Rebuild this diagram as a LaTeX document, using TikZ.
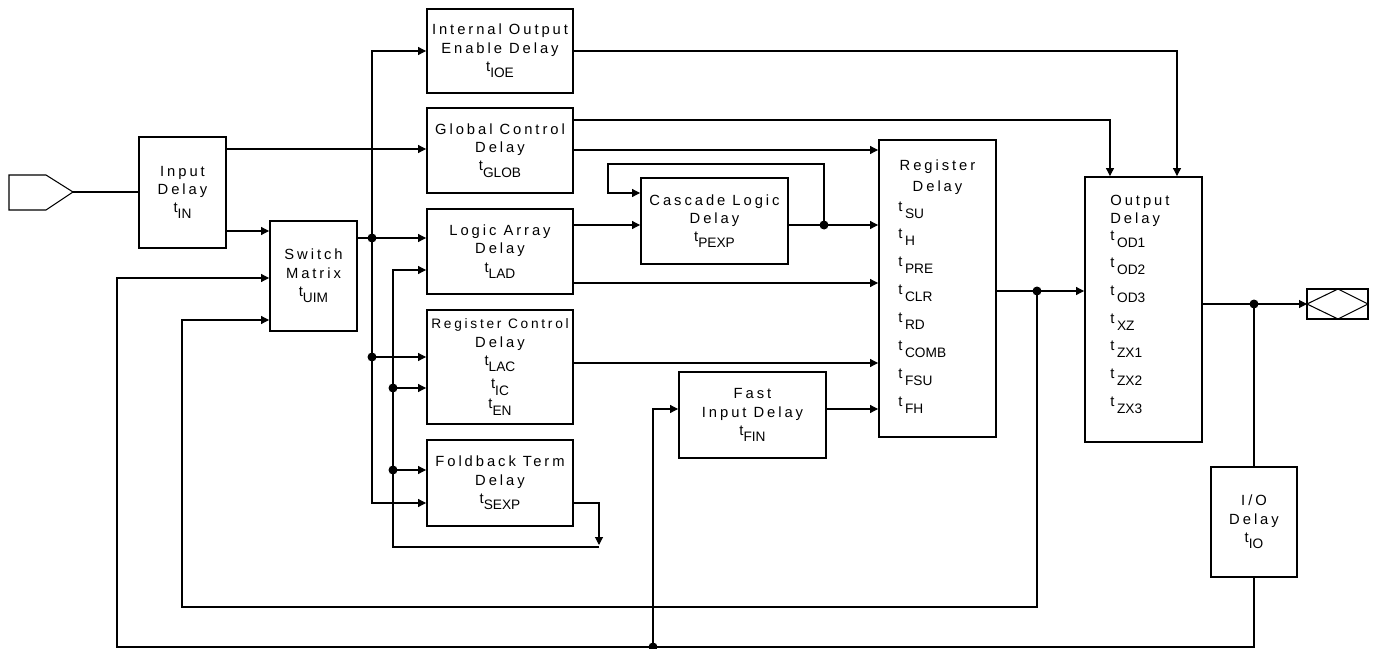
\documentclass[tikz,border=0pt]{standalone}
\usepackage{fontspec}
\setmainfont{Liberation Sans}
\newfontfamily\labelfont[LetterSpace=20]{Liberation Sans}
\usetikzlibrary{arrows.meta}
\newcommand{\subfont}{\normalfont\fontsize{7.8}{9}\selectfont}
\newcommand{\tsub}[1]{t\raisebox{-3.5pt}{\subfont #1}}

\begin{document}
\begin{tikzpicture}[x=0.02cm,y=-0.02cm,
  box/.style={draw,line width=1.1pt,inner sep=0pt,align=center,font=\labelfont\fontsize{8.4}{10.4}\selectfont},
  txt/.style={inner sep=0pt,font=\labelfont\fontsize{8.4}{10.4}\selectfont},
  line/.style={line width=0.6pt},
  arr/.style={line width=0.6pt,-{Triangle[length=4.5pt,width=4.5pt]}}]
  \useasboundingbox (0,0) rectangle (1374,649);
  \node[box,minimum width=1.74cm,minimum height=2.22cm] (inp) at (182.5,192.5) {Input\\Delay\\\tsub{IN}};
  \node[box,minimum width=1.74cm,minimum height=2.2cm] (sw) at (313.5,276) {Switch\\Matrix\\\tsub{UIM}};
  \node[box,minimum width=2.92cm,minimum height=1.68cm] (ioe) at (500,51) {Internal Output\\Enable Delay\\\tsub{IOE}};
  \node[box,minimum width=2.92cm,minimum height=1.7cm] (glob) at (500,150.5) {Global Control\\Delay\\\tsub{GLOB}};
  \node[box,minimum width=2.92cm,minimum height=1.7cm] (lad) at (500,251.5) {Logic Array\\Delay\\\tsub{LAD}};
  \node[box,minimum width=2.92cm,minimum height=2.28cm] (rc) at (500,367) {{\fontsize{7.8}{9.5}\selectfont Register Control}\\Delay\\\tsub{LAC}\\[3pt]\tsub{IC}\\[1pt]\tsub{EN}};
  \node[box,minimum width=2.92cm,minimum height=1.72cm] (fb) at (500,483) {Foldback Term\\Delay\\\tsub{SEXP}};
  \node[box,minimum width=2.94cm,minimum height=1.72cm] (casc) at (714.5,221) {Cascade Logic\\Delay\\\tsub{PEXP}};
  \node[box,minimum width=2.94cm,minimum height=1.72cm] (fin) at (752.5,415) {Fast\\Input Delay\\\tsub{FIN}};
  \node[box,minimum width=2.34cm,minimum height=5.94cm] (reg) at (937.5,288.5) {};
  \node[box,minimum width=2.34cm,minimum height=5.3cm] (outd) at (1143.5,309.5) {};
  \node[box,minimum width=1.72cm,minimum height=2.2cm] (iod) at (1254,522) {I/O\\Delay\\\tsub{IO}};
  \node[txt,anchor=base] at (937.5,170) {Register};
  \node[txt,anchor=base] at (937.5,191) {Delay};
  \foreach \s [count=\i from 0] in {SU,H,PRE,CLR,RD,COMB,FSU,FH}
    \node[txt,anchor=base west] at (898,211+27.9*\i) {t\hspace{1.5pt}\raisebox{-4pt}{\subfont\s}};
  \node[txt,anchor=base west] at (1110,205) {Output};
  \node[txt,anchor=base west] at (1110,223) {Delay};
  \foreach \s [count=\i from 0] in {OD1,OD2,OD3,XZ,ZX1,ZX2,ZX3}
    \node[txt,anchor=base west] at (1110,240+27.7*\i) {t\hspace{1.5pt}\raisebox{-4pt}{\subfont\s}};
  \coordinate (pin) at (73,192);
  \coordinate (pout) at (1307,304);
  \draw[line] (9,175) -- (46,175) -- (pin) -- (46,210) -- (9,210) -- cycle;
  \draw[line] (1307,289) rectangle (1368,319);
  \draw[line] (pout) -- (1338,289) -- (1368,304) -- (1338,319) -- cycle;
  \coordinate (b1) at (372,238);
  \coordinate (b2) at (372,357);
  \coordinate (c1) at (393,388);
  \coordinate (c2) at (393,470);
  \coordinate (d1) at (824,225);
  \coordinate (d2) at (653,647);
  \coordinate (d3) at (1037,291);
  \coordinate (d4) at (1254,304);
  \draw[line] (pin) -- (inp.west |- pin);
  \draw[arr] (inp.east |- 0,149) -- (glob.west |- 0,149);
  \draw[arr] (inp.east |- 0,231) -- (sw.west |- 0,231);
  \draw[arr] (sw.east |- b1) -- (lad.west |- b1);
  \draw[arr] (b1) |- (ioe.west);
  \draw[arr] (b1) |- (fb.west |- 0,503);
  \draw[arr] (b2) -- (rc.west |- b2);
  \draw[arr] (c1) -- (rc.west |- c1);
  \draw[arr] (c2) -- (fb.west |- c2);
  \draw[arr] (fb.east |- 0,503) -| (599,545);
  \draw[arr] (599,547) -- (393,547) |- (lad.west |- 0,270);
  \draw[arr] (glob.east |- 0,120) -| (1110,0 |- outd.north);
  \draw[arr] (glob.east |- 0,150) -- (reg.west |- 0,150);
  \draw[arr] (ioe.east) -| (1177,0 |- outd.north);
  \draw[arr] (lad.east |- d1) -- (casc.west |- d1);
  \draw[arr] (lad.east |- 0,283) -- (reg.west |- 0,283);
  \draw[arr] (casc.east |- d1) -- (reg.west |- d1);
  \draw[arr] (d1) -- (824,164) -| (608,193) -- (casc.west |- 0,193);
  \draw[arr] (rc.east |- 0,363) -- (reg.west |- 0,363);
  \draw[arr] (fin.east |- 0,409) -- (reg.west |- 0,409);
  \draw[arr] (d2) |- (fin.west |- 0,409);
  \draw[arr] (reg.east |- d3) -- (outd.west |- d3);
  \draw[arr] (d3) |- (182,607) |- (sw.west |- 0,320);
  \draw[arr] (outd.east |- d4) -- (pout);
  \draw[line] (d4) -- (iod.north);
  \draw[arr] (iod.south) |- (117,647) |- (sw.west |- 0,278);
  \foreach \p in {b1,b2,c1,c2,d1,d2,d3,d4}
    \fill (\p) circle (0.09cm);
\end{tikzpicture}
\end{document}
